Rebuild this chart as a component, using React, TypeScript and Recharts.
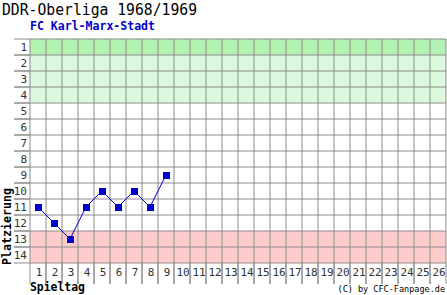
import React from 'react';
import { LineChart, Line, XAxis, YAxis, ReferenceArea, ReferenceLine } from 'recharts';

// Spieltag / Platzierung, FC Karl-Marx-Stadt 1968/69
const spieltage = [1, 2, 3, 4, 5, 6, 7, 8, 9];
const platzierung = [11, 12, 13, 11, 10, 11, 10, 11, 9];

const xTicks = [1, 2, 3, 4, 5, 6, 7, 8, 9, 10, 11, 12, 13, 14, 15, 16, 17, 18, 19, 20, 21, 22, 23, 24, 25, 26];
const yTicks = [1, 2, 3, 4, 5, 6, 7, 8, 9, 10, 11, 12, 13, 14];

const data = spieltage.map((s, i) => ({ spieltag: s, platz: platzierung[i] }));

// grid lines sit between the cells
const xGrid = [0.5, ...xTicks.map(t => t + 0.5)];
const yGrid = [0.5, ...yTicks.map(t => t + 0.5)];

const MONO = '"DejaVu Sans Mono", "Liberation Mono", monospace';
const GRID = '#8c8c8c';
const BLUE = '#0000cc';

const YTick = (props: any) => {
    const { x, y, payload } = props;
    return (
        <g>
            <line x1={14} x2={x} y1={y - 8} y2={y - 8} stroke={GRID} />
            <line x1={14} x2={x} y1={y + 8} y2={y + 8} stroke={GRID} />
            <text x={x - 3} y={y + 4} textAnchor="end" fontFamily={MONO} fontSize={11} fill="#333">
                {payload.value}
            </text>
        </g>
    );
};

const XTick = (props: any) => {
    const { x, y, payload } = props;
    return (
        <g>
            <line x1={x - 8} x2={x - 8} y1={y} y2={y + 21} stroke={GRID} />
            <line x1={x + 8} x2={x + 8} y1={y} y2={y + 21} stroke={GRID} />
            <text x={x + 1} y={y + 13} textAnchor="middle" fontFamily={MONO} fontSize={11} fill="#333">
                {payload.value}
            </text>
        </g>
    );
};

const SquareDot = (props: any) => {
    const { cx, cy } = props;
    return <rect x={cx - 3} y={cy - 3} width={7} height={7} fill={BLUE} />;
};

export default function App() {
    return (
        <div style={{ position: 'absolute', left: 0, top: 0, width: 447, height: 295, background: '#fff' }}>
            <LineChart width={447} height={295} data={data} margin={{ top: 39, right: 1, bottom: 0, left: 0 }}>
                <ReferenceArea y1={0.5} y2={1.5} fill="#b2f2b2" fillOpacity={1} stroke="none" />
                <ReferenceArea y1={1.5} y2={4.5} fill="#ddf9dd" fillOpacity={1} stroke="none" />
                <ReferenceArea y1={12.5} y2={14.5} fill="#ffcccc" fillOpacity={1} stroke="none" />
                {xGrid.map(v => (
                    <ReferenceLine key={'x' + v} x={v} stroke={GRID} strokeWidth={1} />
                ))}
                {yGrid.map(v => (
                    <ReferenceLine key={'y' + v} y={v} stroke={GRID} strokeWidth={1} />
                ))}
                <XAxis
                    dataKey="spieltag"
                    type="number"
                    domain={[0.5, 26.5]}
                    ticks={xTicks}
                    interval={0}
                    height={32}
                    axisLine={false}
                    tickLine={false}
                    tickSize={0}
                    tickMargin={0}
                    tick={<XTick />}
                />
                <YAxis
                    type="number"
                    reversed
                    domain={[0.5, 14.5]}
                    ticks={yTicks}
                    interval={0}
                    width={30}
                    axisLine={false}
                    tickLine={false}
                    tickSize={0}
                    tickMargin={0}
                    tick={<YTick />}
                />
                <Line
                    dataKey="platz"
                    stroke={BLUE}
                    strokeWidth={1}
                    dot={<SquareDot />}
                    isAnimationActive={false}
                />
            </LineChart>
            <svg width={447} height={295} style={{ position: 'absolute', left: 0, top: 0, pointerEvents: 'none' }}>
                <text x={2} y={15} fontFamily={MONO} fontSize={15} fill="#000" textLength={195} lengthAdjust="spacingAndGlyphs">
                    DDR-Oberliga 1968/1969
                </text>
                <text x={30} y={30} fontFamily={MONO} fontSize={11.5} fontWeight="bold" fill={BLUE} textLength={125} lengthAdjust="spacingAndGlyphs">
                    FC Karl-Marx-Stadt
                </text>
                <text
                    transform="translate(11,265) rotate(-90)"
                    fontFamily={MONO}
                    fontSize={11.5}
                    fontWeight="bold"
                    fill="#000"
                    textLength={77}
                    lengthAdjust="spacingAndGlyphs"
                >
                    Platzierung
                </text>
                <text x={30} y={291} fontFamily={MONO} fontSize={11.5} fontWeight="bold" fill="#000" textLength={55} lengthAdjust="spacingAndGlyphs">
                    Spieltag
                </text>
                <text x={445} y={292} textAnchor="end" fontFamily={MONO} fontSize={8.5} fill="#000">
                    (C) by CFC-Fanpage.de
                </text>
            </svg>
        </div>
    );
}
